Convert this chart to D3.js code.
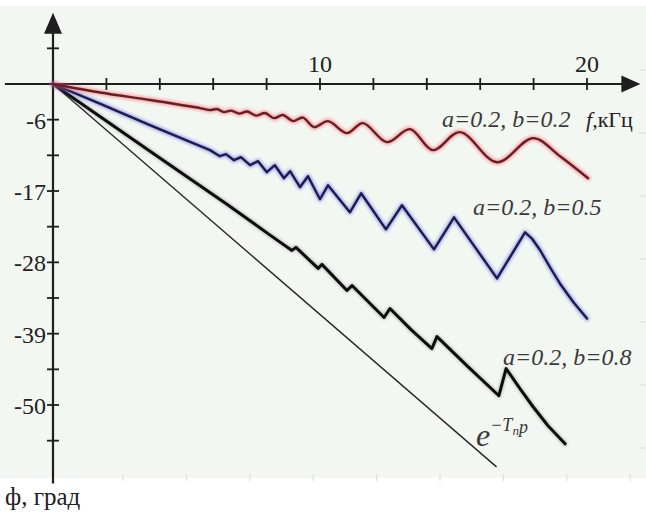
<!DOCTYPE html>
<html>
<head>
<meta charset="utf-8">
<script src="https://cdn.jsdelivr.net/npm/d3@7"></script>
<style>
  html, body { margin: 0; padding: 0; background: #ffffff; }
  svg { display: block; }
  svg text { font-family: "Liberation Serif", "Times New Roman", Tinos, Times, "Noto Serif", "DejaVu Serif", FreeSerif, serif; }
</style>
</head>
<body>
<svg id="chart" width="646" height="513"></svg>
<script>
// Frequency ticks (kHz) and labelled ones
const xTicks = [2, 4, 6, 8, 10, 12, 14, 16, 18, 20];
const xLabelValues = [10, 20];

// Phase ticks (degrees); labels are the rounded values
const yTicks = [5.5, -5.5, -11, -16.5, -22, -27.5, -33, -38.5, -44, -49.5, -55];
const yLabelValues = [-5.5, -16.5, -27.5, -38.5, -49.5];
const yLabelTexts = ["-6", "-17", "-28", "-39", "-50"];

// Phase response, a=0.2, b=0.2  [f, kHz ; phi, deg]
const seriesB02 = [
  [0, 0], [1.76, -1.31], [3.63, -2.47], [5.51, -3.71], [5.88, -4.02], [6.14, -3.86],
  [6.40, -4.33], [6.67, -4.10], [6.97, -4.56], [7.27, -4.25], [7.60, -4.87], [7.94, -4.48],
  [8.28, -5.26], [8.61, -4.79], [8.99, -5.72], [9.36, -5.18], [9.78, -6.65], [10.30, -5.72],
  [11.01, -7.57], [11.61, -6.03], [12.51, -8.96], [13.37, -6.96], [14.23, -10.20],
  [15.24, -7.42], [16.63, -12.06], [17.98, -8.35], [18.99, -11.13], [20.04, -14.53]
];

// Phase response, a=0.2, b=0.5
const seriesB05 = [
  [0, 0], [1.8, -3.1], [3.63, -6.34], [5.0, -8.7], [5.88, -10.20], [6.25, -11.13],
  [6.48, -10.82], [6.78, -11.75], [7.04, -11.28], [7.38, -12.52], [7.68, -11.90],
  [8.01, -13.60], [8.31, -12.52], [8.65, -14.53], [8.88, -13.45], [9.25, -15.92],
  [9.55, -14.22], [10.00, -17.77], [10.30, -15.61], [11.12, -19.78], [11.54, -16.85],
  [12.47, -22.41], [13.07, -18.70], [14.27, -25.50], [15.02, -20.56], [16.63, -29.98],
  [17.68, -22.87], [17.95, -23.9], [18.24, -25.6], [18.62, -28.3], [18.99, -30.8],
  [19.5, -33.7], [20.00, -36.17]
];

// Phase response, a=0.2, b=0.8
const seriesB08 = [
  [0, 0], [4.0, -11.4], [6.5, -18.5], [8.13, -23.3], [8.95, -25.66],
  [9.10, -25.19], [9.93, -28.44], [10.07, -27.82], [11.01, -31.84], [11.20, -31.07],
  [12.40, -36.01], [12.62, -34.62], [13.41, -37.87], [14.19, -40.80], [14.38, -38.95],
  [15.54, -43.58], [16.70, -48.07], [16.97, -43.89], [17.49, -46.99], [17.98, -49.77],
  [18.54, -52.70], [19.18, -55.49]
];

// Pure delay e^{-T p}: linear phase
const seriesDelay = [[0, 0], [16.6, -59]];

const svg = d3.select("#chart");
const W = 646, H = 513;

const x = d3.scaleLinear().domain([0, 20]).range([53, 587]);
const y = d3.scaleLinear().domain([0, -49.5]).range([84, 405]);

// soft glow used under the coloured curves
const defs = svg.append("defs");
defs.append("filter").attr("id", "glow").attr("x", "-10%").attr("y", "-10%")
  .attr("width", "120%").attr("height", "120%")
  .append("feGaussianBlur").attr("stdDeviation", 1.6);
defs.append("filter").attr("id", "soft")
  .append("feGaussianBlur").attr("stdDeviation", 0.55);

// panel background
svg.append("rect").attr("x", 0).attr("y", 6).attr("width", W).attr("height", 472)
  .attr("fill", "#f3f7f2");

// faint frame marks along bottom and right edges
const frame = svg.append("g").attr("stroke", "#dde2dd").attr("stroke-width", 1.2);
frame.selectAll("line.b").data(d3.range(123, 640, 63.4)).join("line")
  .attr("x1", d => d).attr("x2", d => d).attr("y1", 474).attr("y2", 481);
frame.selectAll("line.r").data(d3.range(70, 470, 63)).join("line")
  .attr("x1", 639).attr("x2", 646).attr("y1", d => d).attr("y2", d => d);

const axisColor = "#1e1e1e";
const axes = svg.append("g").attr("stroke", axisColor).attr("fill", axisColor);

// x axis line with arrow
const x0 = y(0);
axes.append("line").attr("x1", x(-1.8)).attr("x2", x(21.5)).attr("y1", x0).attr("y2", x0)
  .attr("stroke-width", 2);
axes.append("path")
  .attr("d", `M${x(22)},${x0} L${x(22) - 19},${x0 - 8.5} L${x(22) - 19},${x0 + 8.5} Z`)
  .attr("stroke", "none");
axes.selectAll("line.xt").data(xTicks).join("line")
  .attr("x1", d => x(d)).attr("x2", d => x(d))
  .attr("y1", x0 - 6).attr("y2", x0 + 6).attr("stroke-width", 1.8);

// y axis line with arrow
const y0 = x(0);
axes.append("line").attr("x1", y0).attr("x2", y0).attr("y1", y(-61.6)).attr("y2", y(9))
  .attr("stroke-width", 2.2);
axes.append("path")
  .attr("d", `M${y0},${y(11)} L${y0 - 9},${y(11) + 21} L${y0 + 9},${y(11) + 21} Z`)
  .attr("stroke", "none");
axes.selectAll("line.yt").data(yTicks).join("line")
  .attr("x1", y0 - 6).attr("x2", y0 + 6)
  .attr("y1", d => y(d)).attr("y2", d => y(d)).attr("stroke-width", 1.8);

// tick labels
svg.selectAll("text.xl").data(xLabelValues).join("text")
  .attr("x", d => x(d)).attr("y", x0 - 12)
  .attr("text-anchor", "middle").attr("font-size", 24).attr("fill", "#222")
  .text(d => String(d));

svg.selectAll("text.yl").data(yLabelValues).join("text")
  .attr("x", y0 - 7).attr("y", d => y(d) + 9)
  .attr("text-anchor", "end").attr("font-size", 24).attr("fill", "#222")
  .text((d, i) => yLabelTexts[i]);

// curves
const line = d3.line().x(d => x(d[0])).y(d => y(d[1]));
const curves = svg.append("g").attr("fill", "none")
  .attr("stroke-linejoin", "round").attr("stroke-linecap", "round");

curves.append("path").datum(seriesDelay).attr("d", line)
  .attr("stroke", "#2a2a2a").attr("stroke-width", 1.4);

curves.append("path").datum(seriesB08).attr("d", line)
  .attr("stroke", "#555").attr("stroke-width", 4.5).attr("opacity", 0.35)
  .attr("filter", "url(#glow)");
curves.append("path").datum(seriesB08).attr("d", line)
  .attr("stroke", "#111").attr("stroke-width", 3).attr("filter", "url(#soft)");

curves.append("path").datum(seriesB05).attr("d", line)
  .attr("stroke", "#5b5bd0").attr("stroke-width", 5).attr("opacity", 0.5)
  .attr("filter", "url(#glow)");
curves.append("path").datum(seriesB05).attr("d", line)
  .attr("stroke", "#1d1a55").attr("stroke-width", 2.4).attr("filter", "url(#soft)");

const round = d3.line().x(d => x(d[0])).y(d => y(d[1])).curve(d3.curveCatmullRom.alpha(0.5));
curves.append("path").datum(seriesB02).attr("d", round)
  .attr("stroke", "#ee5f66").attr("stroke-width", 5.5).attr("opacity", 0.5)
  .attr("filter", "url(#glow)");
curves.append("path").datum(seriesB02).attr("d", round)
  .attr("stroke", "#6e1d22").attr("stroke-width", 2.4).attr("filter", "url(#soft)");

// curve annotations
const note = svg.append("g").attr("font-style", "italic").attr("fill", "#3a3a3a")
  .attr("font-size", 24);
note.append("text").attr("x", 442).attr("y", 127).text("a=0.2, b=0.2");
note.append("text").attr("x", 473).attr("y", 215).text("a=0.2, b=0.5");
note.append("text").attr("x", 503).attr("y", 365).text("a=0.2, b=0.8");

// axis titles
const fl = svg.append("text").attr("x", 586).attr("y", 127).attr("font-size", 22).attr("fill", "#222");
fl.append("tspan").attr("font-style", "italic").text("f");
fl.append("tspan").text(",кГц");

svg.append("text").attr("x", 5).attr("y", 505).attr("font-size", 25).attr("fill", "#222")
  .text("ф, град");

// e^{-T_п p}
const ex = svg.append("text").attr("x", 476).attr("y", 446).attr("fill", "#3a3a3a")
  .attr("font-style", "italic");
ex.append("tspan").attr("font-size", 32).text("e");
ex.append("tspan").attr("font-size", 18).attr("dy", -15).text("−T");
ex.append("tspan").attr("font-size", 13).attr("dy", 4).text("п");
ex.append("tspan").attr("font-size", 18).attr("dy", -2).text("p");
</script>
</body>
</html>
